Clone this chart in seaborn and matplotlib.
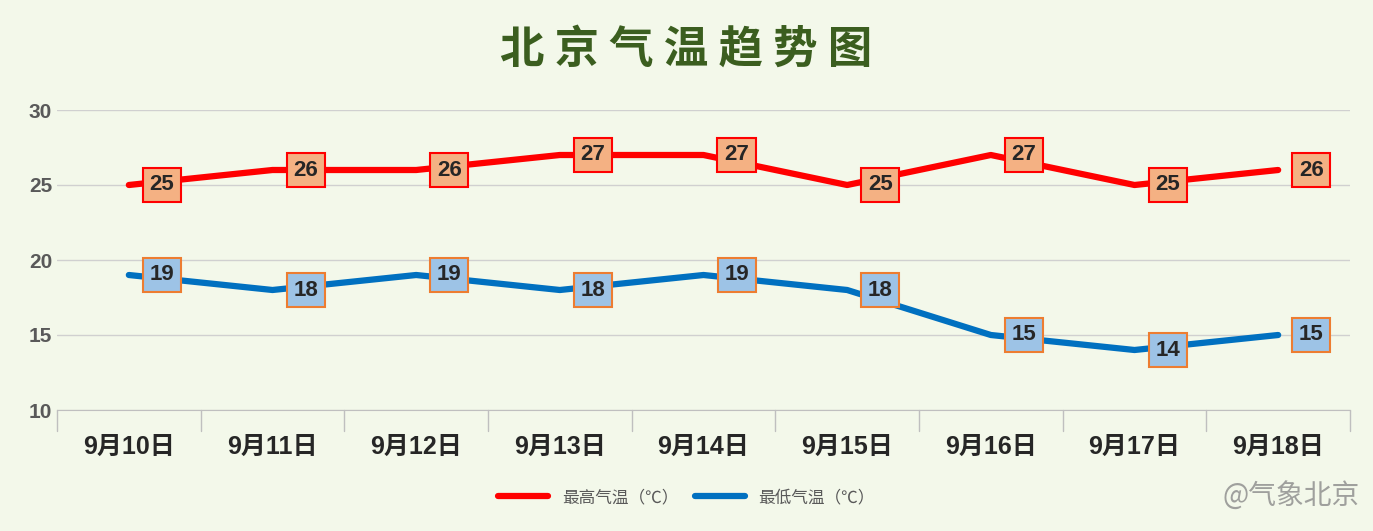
import seaborn as sns
import matplotlib.pyplot as plt
import pandas as pd

dates = ["9月10日", "9月11日", "9月12日", "9月13日", "9月14日",
         "9月15日", "9月16日", "9月17日", "9月18日"]
high = [25, 26, 26, 27, 27, 25, 27, 25, 26]
low = [19, 18, 19, 18, 19, 18, 15, 14, 15]

sns.set_style("white")
plt.rcParams['font.family'] = ['Liberation Sans', 'Noto Sans CJK SC', 'DejaVu Sans']

df = pd.DataFrame({"date": dates * 2, "temp": high + low,
                   "kind": ["最高气温（℃）"] * 9 + ["最低气温（℃）"] * 9})

fig = plt.figure(figsize=(13.73, 5.31), dpi=100, facecolor="#f3f8ea")
ax = fig.add_axes([57 / 1373, 1 - 410 / 531, 1293 / 1373, 300 / 531])
ax.set_facecolor("none")
sns.lineplot(data=df, x="date", y="temp", hue="kind",
             palette=["#ff0000", "#0070c0"], linewidth=4.5, ax=ax, legend=False)

for i, v in enumerate(high):
    ax.text(i + 0.23, v, str(v), ha="center", va="center", fontsize=16, fontweight="bold",
            bbox=dict(boxstyle="square,pad=0.3", fc="#f4b183", ec="#ff0000", lw=1.5))
for i, v in enumerate(low):
    ax.text(i + 0.23, v, str(v), ha="center", va="center", fontsize=16, fontweight="bold",
            bbox=dict(boxstyle="square,pad=0.3", fc="#9dc3e6", ec="#ed7d31", lw=1.5))

ax.set_xlim(-0.5, 8.5)
ax.set_ylim(10, 30)
ax.set_yticks([10, 15, 20, 25, 30])
ax.grid(axis="y", color="#d0d0d0", lw=1)
for s in ["top", "right", "left"]:
    ax.spines[s].set_visible(False)
ax.spines["bottom"].set_color("#bfbfbf")
ax.set_xticks(range(9))
ax.set_xticklabels(dates, fontsize=18, fontweight="bold")
ax.tick_params(axis="x", pad=18, length=0)
ax.tick_params(axis="y", labelsize=15, labelcolor="#595959", length=0)
for lbl in ax.get_yticklabels():
    lbl.set_fontweight("bold")
for b in range(10):
    ax.axvline(b - 0.5, ymin=-0.07, ymax=0, color="#bfbfbf", lw=1, clip_on=False)
ax.set_xlabel("")
ax.set_ylabel("")

fig.text(0.5, 1 - 50 / 531, "北 京 气 温 趋 势 图", ha="center", va="center",
         fontsize=32, fontweight="bold", color="#3b5e1f",
         family=['Noto Sans CJK SC', 'DejaVu Sans'])

fig.legend(handles=[plt.Line2D([], [], color="#ff0000", lw=4.5),
                    plt.Line2D([], [], color="#0070c0", lw=4.5)],
           labels=["最高气温（℃）", "最低气温（℃）"], loc="center",
           bbox_to_anchor=(0.5, 1 - 497 / 531), ncol=2, frameon=False,
           fontsize=12, labelcolor="#595959", handlelength=3, columnspacing=1)
fig.text(0.99, 1 - 497 / 531, "@气象北京", ha="right", va="center",
         fontsize=20, color="#8a8a8a", alpha=0.8,
         family=['Noto Sans CJK SC', 'DejaVu Sans'])

fig.savefig("out.png", dpi=100, facecolor=fig.get_facecolor())
